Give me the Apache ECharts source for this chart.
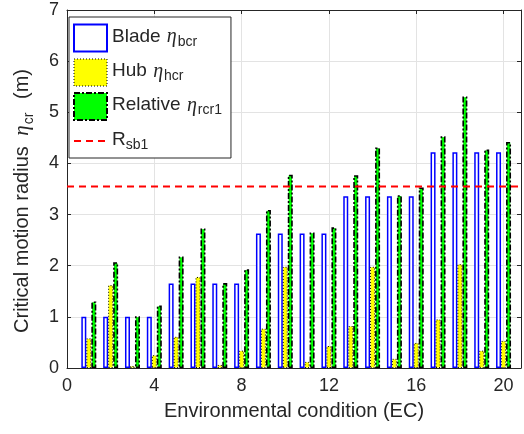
<!DOCTYPE html>
<html>
<head>
<meta charset="utf-8">
<script src="https://cdn.jsdelivr.net/npm/echarts@6/dist/echarts.min.js"></script>
<style>
html,body{margin:0;padding:0;background:#ffffff;}
#chart{width:524px;height:434px;}
</style>
</head>
<body>
<div id="chart"></div>
<script>
// ---- data ----
const conditions = [1,2,3,4,5,6,7,8,9,10,11,12,13,14,15,16,17,18,19,20];
const bladeValues = [1.00,1.00,1.00,1.00,1.65,1.65,1.65,1.65,2.63,2.63,2.63,2.63,3.36,3.36,3.36,3.36,4.22,4.22,4.22,4.22];
const hubValues = [0.58,1.62,0.04,0.25,0.61,1.78,0.06,0.34,0.77,1.98,0.12,0.43,0.82,1.98,0.18,0.49,0.95,2.03,0.34,0.53];
const relativeValues = [1.30,2.07,1.01,1.22,2.18,2.73,1.66,1.93,3.09,3.78,2.65,2.75,3.77,4.31,3.38,3.53,4.53,5.31,4.27,4.42];
const rsb1Value = 3.55;
const xTickLabels = [0,4,8,12,16,20];
const yTickLabels = [0,1,2,3,4,5,6,7];
const xMin = 0, xMax = 20.8;

const TXT = '#262626';
const SANS = '"Liberation Sans", Arial, Helvetica, sans-serif';
const SERIF = '"Liberation Serif", "DejaVu Serif", serif';

function richSet(size, subSize, subPad, lh, gPadL, subPadR) {
  return {
    t: {fontSize: size, fontFamily: SANS, color: TXT, lineHeight: lh, verticalAlign: 'top'},
    g: {fontSize: size + 1, fontFamily: SERIF, fontStyle: 'italic', color: TXT, lineHeight: lh, verticalAlign: 'top', padding: [0, 1, 0, gPadL]},
    s: {fontSize: subSize, fontFamily: SANS, color: TXT, lineHeight: subSize, padding: [subPad, subPadR, 0, 0], verticalAlign: 'bottom'}
  };
}

const legendLabels = {
  'Blade': '{t|Blade }{g|η}{s|bcr}',
  'Hub': '{t|Hub }{g|η}{s|hcr}',
  'Relative': '{t|Relative }{g|η}{s|rcr1}',
  'Rsb1': '{t|R}{s|sb1}'
};

const pairs = (vals) => conditions.map((c, i) => [c, vals[i]]);

const chart = echarts.init(document.getElementById('chart'), null, {renderer: 'canvas'});

const axisLineStyle = {color: TXT, width: 1};

chart.setOption({
  backgroundColor: '#ffffff',
  animation: false,
  grid: {left: 60, right: 2, top: 10, bottom: 66, containLabel: false},
  xAxis: [
    {
      type: 'value', min: xMin, max: xMax, interval: 4, position: 'bottom',
      axisLine: {show: true, onZero: false, lineStyle: axisLineStyle},
      axisTick: {show: true, inside: true, length: 4, lineStyle: axisLineStyle},
      axisLabel: {
        fontSize: 18, color: TXT, fontFamily: SANS, margin: 9,
        formatter: (v) => (xTickLabels.indexOf(v) >= 0 ? String(v) : '')
      },
      splitLine: {show: true, lineStyle: {color: '#e3e3e3', width: 1}},
      name: 'Environmental condition (EC)', nameLocation: 'middle', nameGap: 33,
      nameTextStyle: {fontSize: 20, color: TXT, fontFamily: SANS}
    },
    {
      type: 'value', min: xMin, max: xMax, interval: 4, position: 'top',
      axisLine: {show: true, onZero: false, lineStyle: axisLineStyle},
      axisTick: {show: true, inside: true, length: 4, lineStyle: axisLineStyle},
      axisLabel: {show: false}, splitLine: {show: false}
    }
  ],
  yAxis: [
    {
      type: 'value', min: 0, max: 7, interval: 1, position: 'left',
      axisLine: {show: true, onZero: false, lineStyle: axisLineStyle},
      axisTick: {show: true, inside: true, length: 4, lineStyle: axisLineStyle},
      axisLabel: {
        fontSize: 18, color: TXT, fontFamily: SANS, margin: 8,
        formatter: (v) => (yTickLabels.indexOf(v) >= 0 ? String(v) : '')
      },
      splitLine: {show: true, lineStyle: {color: '#e3e3e3', width: 1}},
      name: '{t|Critical motion radius }{g|η}{s|cr}{t| (m)}',
      nameLocation: 'middle', nameGap: 31,
      nameTextStyle: {fontSize: 20, color: TXT, fontFamily: SANS, padding: [0, 24, 0, 0], rich: richSet(20, 14, 14, 24, 5, 8)}
    },
    {
      type: 'value', min: 0, max: 7, interval: 1, position: 'right',
      axisLine: {show: true, onZero: false, lineStyle: axisLineStyle},
      axisTick: {show: true, inside: true, length: 4, lineStyle: axisLineStyle},
      axisLabel: {show: false}, splitLine: {show: false}
    }
  ],
  legend: {
    orient: 'vertical', left: 69, top: 17,
    padding: [6, 9, 6, 4],
    itemWidth: 33, itemHeight: 27, itemGap: 5,
    backgroundColor: '#ffffff', borderColor: TXT, borderWidth: 1, borderRadius: 0,
    selectedMode: false,
    formatter: (name) => legendLabels[name],
    textStyle: {fontSize: 19, color: '#000', fontFamily: SANS, rich: richSet(19, 14, 12, 22, 1, 0)},
    data: [
      {name: 'Blade', icon: 'rect', itemStyle: {color: '#ffffff', borderColor: '#0000ff', borderWidth: 2}},
      {name: 'Hub', icon: 'rect', itemStyle: {color: '#ffff00', borderColor: '#000000', borderWidth: 1, borderType: [1, 2]}},
      {name: 'Relative', icon: 'rect', itemStyle: {color: '#00ff00', borderColor: '#000000', borderWidth: 2, borderType: [6, 2, 2, 2]}},
      {name: 'Rsb1', itemStyle: {opacity: 0}, lineStyle: {color: '#ff0000', width: 2, type: [7, 5]}}
    ]
  },
  series: [
    {
      name: 'Blade', type: 'bar', data: pairs(bladeValues),
      barWidth: 5, barGap: '0%',
      itemStyle: {color: '#ffffff', borderColor: '#0000ff', borderWidth: 1.5}
    },
    {
      name: 'Hub', type: 'bar', data: pairs(hubValues),
      barWidth: 5, barGap: '0%',
      itemStyle: {color: '#ffff00', borderColor: '#000000', borderWidth: 1, borderType: [1, 2]}
    },
    {
      name: 'Relative', type: 'bar', data: pairs(relativeValues),
      barWidth: 5, barGap: '0%',
      itemStyle: {color: '#00ff00', borderColor: '#000000', borderWidth: 1.6, borderType: [6, 2, 2, 2]}
    },
    {
      name: 'Rsb1', type: 'line', data: [[xMin, rsb1Value], [xMax, rsb1Value]],
      symbol: 'none', showSymbol: false, silent: true,
      lineStyle: {color: '#ff0000', width: 2, type: [7, 5]}
    }
  ]
});
</script>
</body>
</html>
